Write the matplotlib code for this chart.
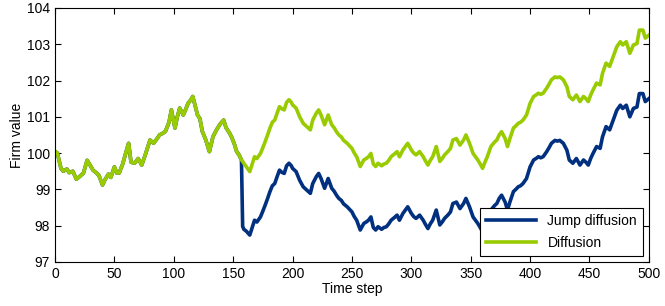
import numpy as np
import matplotlib
matplotlib.use('Agg')
import matplotlib.pyplot as plt

plt.rcParams['font.family'] = ['Liberation Sans', 'DejaVu Sans']

steps = [0, 2, 5, 7, 10, 12, 15, 18, 21, 24, 27, 29, 32, 35, 37, 40, 42, 45, 47, 50,
         52, 54, 57, 60, 62, 64, 67, 70, 73, 76, 80, 83, 86, 88, 91, 93, 96, 98, 101, 103,
         105, 108, 110, 112, 114, 116, 118, 120, 122, 124, 127, 130, 133, 136, 139, 142, 144, 147, 149, 151,
         153, 155, 157, 158, 159, 161, 164, 166, 168, 170, 173, 175, 177, 179, 181, 183, 185, 187, 189, 191,
         193, 195, 197, 199, 200, 203, 206, 209, 212, 215, 217, 220, 222, 224, 227, 230, 233, 235, 237, 239,
         241, 243, 246, 248, 250, 252, 254, 257, 260, 262, 264, 266, 268, 270, 272, 275, 277, 279, 281, 283,
         286, 288, 290, 293, 295, 297, 300, 302, 304, 307, 310, 312, 314, 316, 318, 321, 324, 326, 328, 331,
         333, 335, 338, 341, 344, 346, 349, 352, 354, 356, 358, 360, 362, 364, 367, 370, 372, 374, 376, 379,
         381, 383, 386, 388, 390, 392, 394, 397, 400, 403, 405, 407, 409, 411, 414, 416, 418, 421, 423, 425,
         428, 431, 433, 436, 439, 442, 445, 447, 449, 451, 453, 456, 459, 461, 464, 467, 470, 473, 476, 478,
         481, 484, 487, 490, 492, 495, 497, 500]

diffusion = [100.05, 100.0, 99.58, 99.5, 99.56, 99.46, 99.5, 99.28, 99.36, 99.45, 99.8, 99.7, 99.53, 99.45, 99.38, 99.12, 99.26, 99.42, 99.33, 99.62,
             99.45, 99.45, 99.7, 100.05, 100.27, 99.75, 99.72, 99.85, 99.67, 99.95, 100.36, 100.27, 100.4, 100.5, 100.55, 100.6, 100.85, 101.19, 100.69, 101.0,
             101.24, 101.05, 101.2, 101.37, 101.45, 101.56, 101.3, 101.05, 100.95, 100.6, 100.36, 100.04, 100.45, 100.64, 100.8, 100.91, 100.7, 100.55, 100.42, 100.25,
             100.04, 99.95, 99.81, 99.77, 99.72, 99.63, 99.49, 99.7, 99.9, 99.85, 99.99, 100.15, 100.32, 100.5, 100.69, 100.85, 100.91, 101.1, 101.28, 101.22,
             101.19, 101.4, 101.47, 101.4, 101.33, 101.24, 101.0, 100.82, 100.73, 100.64, 100.91, 101.1, 101.19, 101.05, 100.78, 101.05, 100.78, 100.7, 100.59, 100.5,
             100.45, 100.35, 100.27, 100.2, 100.13, 100.0, 99.9, 99.63, 99.81, 99.85, 99.9, 99.99, 99.7, 99.63, 99.72, 99.65, 99.7, 99.72, 99.8, 99.9,
             99.98, 100.04, 99.9, 100.09, 100.18, 100.27, 100.09, 100.0, 99.95, 100.04, 99.9, 99.78, 99.67, 99.8, 99.9, 100.18, 99.77, 99.85, 99.95, 100.05,
             100.13, 100.36, 100.4, 100.22, 100.36, 100.5, 100.27, 99.99, 99.9, 99.81, 99.7, 99.58, 99.75, 99.9, 100.18, 100.3, 100.36, 100.5, 100.59, 100.4,
             100.18, 100.4, 100.69, 100.75, 100.82, 100.85, 100.91, 101.05, 101.37, 101.56, 101.6, 101.65, 101.62, 101.65, 101.79, 101.9, 102.02, 102.1, 102.08, 102.1,
             102.02, 101.83, 101.56, 101.47, 101.6, 101.42, 101.56, 101.5, 101.42, 101.6, 101.74, 101.93, 101.88, 102.2, 102.48, 102.39, 102.66, 102.93, 103.07, 102.98,
             103.07, 102.75, 102.98, 103.02, 103.39, 103.39, 103.17, 103.25]

jump_diffusion = [100.05, 100.0, 99.58, 99.5, 99.56, 99.46, 99.5, 99.28, 99.36, 99.45, 99.8, 99.7, 99.53, 99.45, 99.38, 99.12, 99.26, 99.42, 99.33, 99.62,
                  99.45, 99.45, 99.7, 100.05, 100.27, 99.75, 99.72, 99.85, 99.67, 99.95, 100.36, 100.27, 100.4, 100.5, 100.55, 100.6, 100.85, 101.19, 100.69, 101.0,
                  101.24, 101.05, 101.2, 101.37, 101.45, 101.56, 101.3, 101.05, 100.95, 100.6, 100.36, 100.04, 100.45, 100.64, 100.8, 100.91, 100.7, 100.55, 100.42, 100.25,
                  100.04, 99.95, 99.81, 97.98, 97.9, 97.85, 97.74, 97.95, 98.15, 98.1, 98.24, 98.4, 98.57, 98.75, 98.94, 99.1, 99.16, 99.35, 99.53, 99.47,
                  99.44, 99.65, 99.72, 99.65, 99.58, 99.49, 99.25, 99.07, 98.98, 98.89, 99.16, 99.35, 99.44, 99.3, 99.03, 99.3, 99.03, 98.95, 98.84, 98.75,
                  98.7, 98.6, 98.52, 98.45, 98.38, 98.25, 98.15, 97.88, 98.06, 98.1, 98.15, 98.24, 97.95, 97.88, 97.97, 97.9, 97.95, 97.97, 98.05, 98.15,
                  98.23, 98.29, 98.15, 98.34, 98.43, 98.52, 98.34, 98.25, 98.2, 98.29, 98.15, 98.03, 97.92, 98.05, 98.15, 98.43, 98.02, 98.1, 98.2, 98.3,
                  98.38, 98.61, 98.65, 98.47, 98.61, 98.75, 98.52, 98.24, 98.15, 98.06, 97.95, 97.83, 98.0, 98.15, 98.43, 98.55, 98.61, 98.75, 98.84, 98.65,
                  98.43, 98.65, 98.94, 99.0, 99.07, 99.1, 99.16, 99.3, 99.62, 99.81, 99.85, 99.9, 99.87, 99.9, 100.04, 100.15, 100.27, 100.35, 100.33, 100.35,
                  100.27, 100.08, 99.81, 99.72, 99.85, 99.67, 99.81, 99.75, 99.67, 99.85, 99.99, 100.18, 100.13, 100.45, 100.73, 100.64, 100.91, 101.18, 101.32, 101.23,
                  101.32, 101.0, 101.23, 101.27, 101.64, 101.64, 101.42, 101.5]

fontsize = 10
fig = plt.figure(figsize=(6.65, 3.06), dpi=100)
ax = fig.add_axes([0.0827, 0.144, 0.893, 0.830])
ax.plot(steps, jump_diffusion, color='#00307f', lw=2.6, label='Jump diffusion')
ax.plot(steps, diffusion, color='#99cc00', lw=2.6, label='Diffusion')
ax.set_xlim(0, 500)
ax.set_ylim(97, 104)
ax.set_xticks(range(0, 501, 50))
ax.set_yticks(range(97, 105))
ax.tick_params(direction='in', top=True, right=True, labelsize=fontsize, length=4)
ax.set_xlabel('Time step', fontsize=fontsize, labelpad=1)
ax.set_ylabel('Firm value', fontsize=fontsize, labelpad=2)
leg = ax.legend(loc='lower right', fontsize=fontsize, fancybox=False, framealpha=1,
                edgecolor='black', handlelength=3.6, labelspacing=0.6,
                borderpad=0.45, borderaxespad=0.4)
leg.get_frame().set_linewidth(0.8)
fig.savefig('out.png', dpi=100)
